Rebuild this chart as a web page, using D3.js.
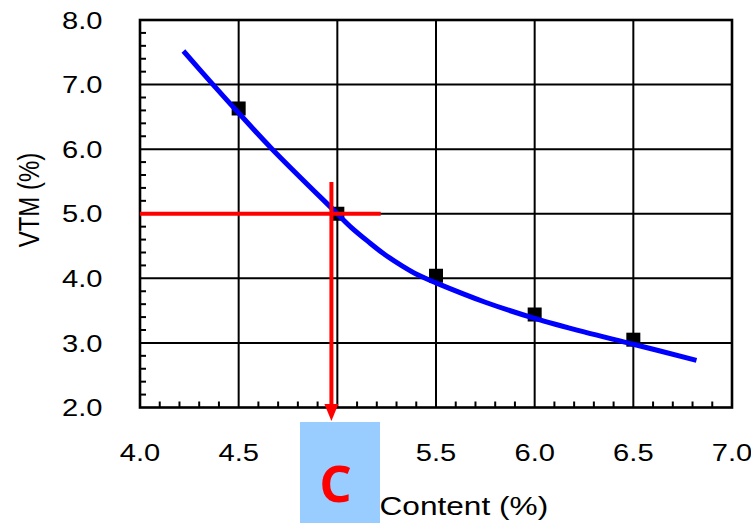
<!DOCTYPE html>
<html>
<head>
<meta charset="utf-8">
<script src="https://cdn.jsdelivr.net/npm/d3@7"></script>
<style>
  body { margin: 0; background: #fff; }
  text { font-family: "Liberation Sans", Arial, sans-serif; fill: #000; }
</style>
</head>
<body>
<div id="chart"></div>
<script>
// measured points
let contentPts = [4.5, 5.0, 5.5, 6.0, 6.5];
let vtmPts = [6.63, 5.0, 4.04, 3.44, 3.05];

// fitted curve
let fitX = [4.22, 4.37, 4.5, 4.67, 4.99, 5.07, 5.16, 5.24, 5.33, 5.41, 5.5, 5.75, 6.0, 6.25, 6.5, 6.82];
let fitY = [7.52, 7.0, 6.56, 6.0, 5.03, 4.79, 4.56, 4.37, 4.19, 4.05, 3.93, 3.63, 3.38, 3.17, 2.98, 2.73];

let xTicks = [4.0, 4.5, 5.0, 5.5, 6.0, 6.5, 7.0];
let yTicks = [2.0, 3.0, 4.0, 5.0, 6.0, 7.0, 8.0];

// reading of the target: VTM 5.0 -> content C
let targetVtm = 5.0;
let targetContent = 4.97;
let guideEndX = 5.22;
let guideTopY = 5.49;

let width = 751, height = 523;
let stretch = 1.24; // text in the picture is widened horizontally

let svg = d3.select("#chart")
    .append("svg")
    .attr("width", width)
    .attr("height", height);

let x = d3.scaleLinear().domain([4, 7]).range([140, 732]);
let y = d3.scaleLinear().domain([2, 8]).range([407.5, 20]);

// grid lines
svg.append("g")
    .selectAll("line")
    .data(xTicks.slice(1, -1))
    .enter()
    .append("line")
    .attr("x1", d => x(d)).attr("x2", d => x(d))
    .attr("y1", y(8)).attr("y2", y(2))
    .attr("stroke", "#000").attr("stroke-width", 2);

svg.append("g")
    .selectAll("line")
    .data(yTicks.slice(1, -1))
    .enter()
    .append("line")
    .attr("x1", x(4)).attr("x2", x(7))
    .attr("y1", d => y(d)).attr("y2", d => y(d))
    .attr("stroke", "#000").attr("stroke-width", 2);

// minor ticks pointing inward
let xMinor = d3.range(41, 70).map(d => d / 10).filter(d => Math.round(d * 10) % 5 !== 0);
let yMinor = d3.range(11, 40).map(d => d / 5).filter(d => Math.round(d * 5) % 5 !== 0);

svg.append("g")
    .selectAll("line")
    .data(xMinor)
    .enter()
    .append("line")
    .attr("x1", d => x(d)).attr("x2", d => x(d))
    .attr("y1", y(2)).attr("y2", y(2) - 6)
    .attr("stroke", "#000").attr("stroke-width", 2);

svg.append("g")
    .selectAll("line")
    .data(yMinor)
    .enter()
    .append("line")
    .attr("x1", x(4)).attr("x2", x(4) + 6)
    .attr("y1", d => y(d)).attr("y2", d => y(d))
    .attr("stroke", "#000").attr("stroke-width", 2);

// frame
svg.append("rect")
    .attr("x", x(4)).attr("y", y(8))
    .attr("width", x(7) - x(4)).attr("height", y(2) - y(8))
    .attr("fill", "none")
    .attr("stroke", "#000").attr("stroke-width", 2.6);

// tick labels
svg.append("g")
    .selectAll("text")
    .data(yTicks)
    .enter()
    .append("text")
    .attr("transform", d => "translate(102.5," + (y(d) + 8.7) + ") scale(" + stretch + ",1)")
    .attr("text-anchor", "end")
    .style("font-size", "23.5px")
    .text(d => d.toFixed(1));

// the 5.0 label sits under the answer box, so it is not drawn
svg.append("g")
    .selectAll("text")
    .data(xTicks.filter(d => d !== 5.0))
    .enter()
    .append("text")
    .attr("transform", d => "translate(" + x(d) + ",461) scale(" + stretch + ",1)")
    .attr("text-anchor", "middle")
    .style("font-size", "23.5px")
    .text(d => d.toFixed(1));

// axis titles
svg.append("text")
    .attr("transform", "translate(38.5,200) rotate(-90) scale(1," + stretch + ")")
    .attr("text-anchor", "middle")
    .style("font-size", "24px")
    .text("VTM (%)");

// markers
let sq = 14;
svg.append("g")
    .selectAll("rect")
    .data(contentPts)
    .enter()
    .append("rect")
    .attr("x", d => x(d) - sq / 2)
    .attr("y", (d, i) => y(vtmPts[i]) - sq / 2)
    .attr("width", sq).attr("height", sq)
    .attr("fill", "#000");

// fitted curve
let line = d3.line()
    .x(d => x(d[0]))
    .y(d => y(d[1]))
    .curve(d3.curveCatmullRom);

svg.append("path")
    .datum(fitX.map((d, i) => [d, fitY[i]]))
    .attr("d", line)
    .attr("fill", "none")
    .attr("stroke", "#0000ff")
    .attr("stroke-width", 5);

// red guide lines
svg.append("line")
    .attr("x1", x(4)).attr("x2", x(guideEndX))
    .attr("y1", y(targetVtm)).attr("y2", y(targetVtm))
    .attr("stroke", "#ff0000").attr("stroke-width", 4);

svg.append("line")
    .attr("x1", x(targetContent)).attr("x2", x(targetContent))
    .attr("y1", y(guideTopY)).attr("y2", 406)
    .attr("stroke", "#ff0000").attr("stroke-width", 4);

let ax = x(targetContent);
svg.append("path")
    .attr("d", "M" + (ax - 7) + ",404 L" + (ax + 7) + ",404 L" + ax + ",421 Z")
    .attr("fill", "#ff0000");

// answer box
svg.append("rect")
    .attr("x", 300).attr("y", 422)
    .attr("width", 80).attr("height", 101)
    .attr("fill", "#99ccff");

svg.append("text")
    .attr("x", 335.5).attr("y", 501.5)
    .attr("text-anchor", "middle")
    .style("font-family", "'Noto Sans', sans-serif")
    .style("font-weight", "bold")
    .style("font-size", "50px")
    .style("fill", "#ff0000")
    .text("C");

svg.append("text")
    .attr("transform", "translate(379.5,515) scale(" + stretch + ",1)")
    .style("font-size", "25.5px")
    .text("Content (%)");
</script>
</body>
</html>
